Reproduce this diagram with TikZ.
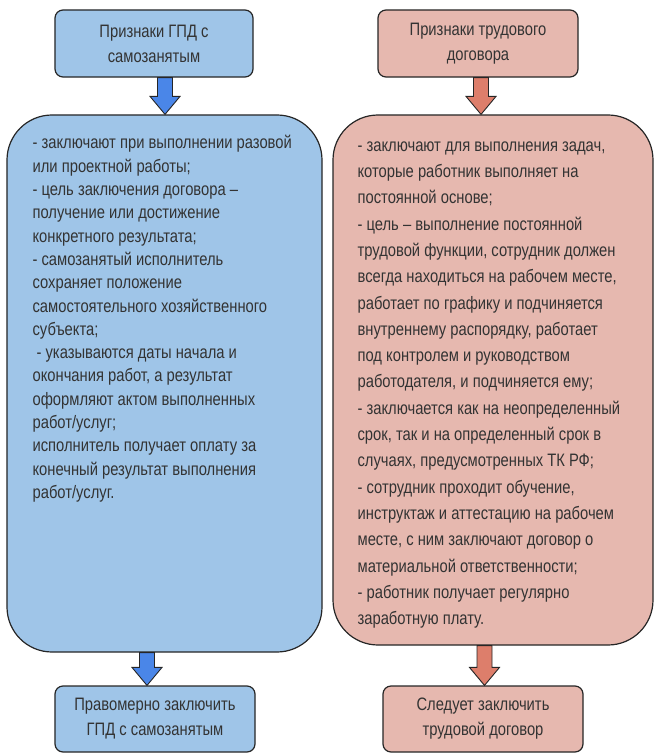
\documentclass[tikz,border=0pt]{standalone}
\usepackage{fontspec}
\setmainfont{Liberation Sans}[FakeStretch=0.82]
\usetikzlibrary{calc}
\usetikzlibrary{positioning}
\definecolor{gpdfill}{HTML}{9FC5E8}
\definecolor{gpdarr}{HTML}{4A86E8}
\definecolor{tdfill}{HTML}{E6B8AF}
\definecolor{tdarr}{HTML}{DD7E6B}
\definecolor{edgegray}{HTML}{262626}
\definecolor{textgray}{HTML}{333333}
\tikzset{
  headbox/.style={draw=edgegray, line width=1.2bp, rounded corners=8bp,
    minimum width=200bp, minimum height=67bp, align=center, text=textgray,
    font=\fontsize{18bp}{25bp}\selectfont, inner sep=0pt},
  bodybox/.style={draw=edgegray, line width=1.2bp, rounded corners=45bp},
  bodytext/.style={align=left, inner sep=0pt, text=textgray},
  blockarr/.style={draw=edgegray, line width=0.9bp, line join=miter},
}

\begin{document}
\begin{tikzpicture}[x=1bp,y=-1bp]
  \useasboundingbox (0,0) rectangle (654,753);

  % left column
  \node[headbox, fill=gpdfill, minimum width=198bp] (gpdhead) at (154,43.5) {Признаки ГПД с\\самозанятым};
  \node[bodybox, fill=gpdfill, minimum width=315bp, minimum height=537bp] (gpdbody) at (164.5,383.5) {};
  \node[bodytext, font=\fontsize{18bp}{23.3bp}\selectfont, below right=21bp and 26bp of gpdbody.north west] (gpdtext)
    {- заключают при выполнении разовой\\
     или проектной работы;\\
     - цель заключения договора –\\
     получение или достижение\\
     конкретного результата;\\
     - самозанятый исполнитель\\
     сохраняет положение\\
     самостоятельного хозяйственного\\
     субъекта;\\
     \hspace*{4bp}- указываются даты начала и\\
     окончания работ, а результат\\
     оформляют актом выполненных\\
     работ/услуг;\\
     исполнитель получает оплату за\\
     конечный результат выполнения\\
     работ/услуг.};
  \node[headbox, fill=gpdfill, minimum height=66bp] (gpdres) at (155,719) {Правомерно заключить\\ГПД с самозанятым};

  % right column
  \node[headbox, fill=tdfill] (tdhead) at (478,43.5) {Признаки трудового\\договора};
  \node[bodybox, fill=tdfill, minimum width=320bp, minimum height=530bp] (tdbody) at (493,380) {};
  \node[bodytext, font=\fontsize{18bp}{26.3bp}\selectfont, below right=27bp and 25bp of tdbody.north west] (tdtext)
    {- заключают для выполнения задач,\\
     которые работник выполняет на\\
     постоянной основе;\\
     - цель – выполнение постоянной\\
     трудовой функции, сотрудник должен\\
     всегда находиться на рабочем месте,\\
     работает по графику и подчиняется\\
     внутреннему распорядку, работает\\
     под контролем и руководством\\
     работодателя, и подчиняется ему;\\
     - заключается как на неопределенный\\
     срок, так и на определенный срок в\\
     случаях, предусмотренных ТК РФ;\\
     - сотрудник проходит обучение,\\
     инструктаж и аттестацию на рабочем\\
     месте, с ним заключают договор о\\
     материальной ответственности;\\
     - работник получает регулярно\\
     заработную плату.};
  \node[headbox, fill=tdfill, minimum height=66bp] (tdres) at (483,719) {Следует заключить\\трудовой договор};

  % block arrows
  \coordinate (xa) at (165,0);
  \coordinate (xb) at (147,0);
  \coordinate (xc) at (481,0);
  \coordinate (xd) at (484.5,0);
  \foreach \src/\dst/\ax/\col in {gpdhead/gpdbody/xa/gpdarr, gpdbody/gpdres/xb/gpdarr,
                                  tdhead/tdbody/xc/tdarr, tdbody/tdres/xd/tdarr}{
    \coordinate (t) at (\dst.north -| \ax);
    \coordinate (s) at (\src.south -| \ax);
    \draw[blockarr, fill=\col] (t) -- ($(t)+(-15,-18)$) -- ($(t)+(-7.5,-18)$)
      -- ($(s)+(-7.5,0)$) -- ($(s)+(7.5,0)$) -- ($(t)+(7.5,-18)$) -- ($(t)+(15,-18)$) -- cycle;
  }
\end{tikzpicture}
\end{document}
